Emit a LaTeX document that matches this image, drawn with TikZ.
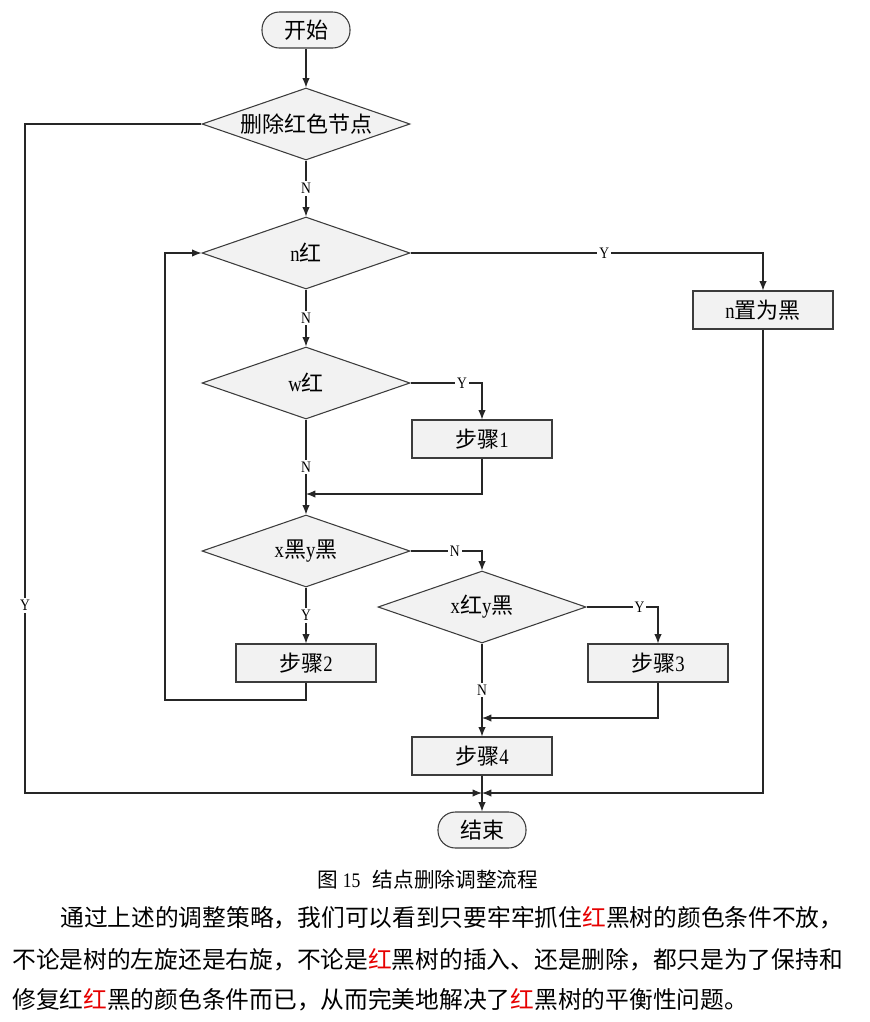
\documentclass[tikz,border=0pt]{standalone}
\usepackage{fontspec}
\setmainfont[FakeStretch=0.85]{Liberation Serif}
\newfontfamily\cjk{Noto Sans CJK SC}
\usetikzlibrary{shapes.geometric, arrows.meta, calc}
\definecolor{boxgray}{RGB}{242,242,242}
\definecolor{edgegray}{RGB}{60,60,60}
\definecolor{textred}{RGB}{230,0,0}

\begin{document}
\begin{tikzpicture}[x=0.75pt, y=-0.75pt]
            \tikzstyle{decision} = [diamond, aspect=3, draw=edgegray, fill=boxgray, line width=0.8pt, inner sep=0pt, minimum width=156pt, minimum height=54pt, font=\fontsize{16.5}{18}\selectfont]
            \tikzstyle{block} = [rectangle, draw=edgegray, fill=boxgray, line width=0.8pt, minimum width=105pt, minimum height=28.5pt, font=\fontsize{16.5}{18}\selectfont]
            \tikzstyle{terminal} = [rectangle, rounded corners=13pt, draw=edgegray, fill=boxgray, line width=0.8pt, minimum width=66pt, minimum height=27pt, font=\fontsize{16.5}{18}\selectfont]
            \tikzstyle{arrow} = [line width=0.8pt, ->, >={Latex[length=7pt,width=5.5pt]}, black!85]
            \tikzstyle{lbl} = [fill=white, inner sep=1.5pt, font=\fontsize{12}{13}\selectfont, text=black]
            \tikzstyle{para} = [anchor=west, inner sep=0pt, font=\fontsize{17.8}{20}\selectfont\cjk]

            \useasboundingbox (0,0) rectangle (870,1022);

            % flow nodes
            \node[terminal] (start) at (306,30) {\cjk 开始};
            \node[decision] (delred) at (306,124) {\cjk 删除红色节点};
            \node[decision] (nred) at (306,253) {n{\cjk 红}};
            \node[block] (nblack) at (763,310) {n{\cjk 置为黑}};
            \node[decision] (wred) at (306,383) {w{\cjk 红}};
            \node[block] (step1) at (482,439) {{\cjk 步骤}1};
            \node[decision] (xbyb) at (306,551) {x{\cjk 黑}y{\cjk 黑}};
            \node[decision] (xryb) at (482,607) {x{\cjk 红}y{\cjk 黑}};
            \node[block] (step2) at (306,663) {{\cjk 步骤}2};
            \node[block] (step3) at (658,663) {{\cjk 步骤}3};
            \node[block] (step4) at (482,756) {{\cjk 步骤}4};
            \node[terminal] (stop) at (482,830) {\cjk 结束};

            % junctions and corners
            \coordinate (j1) at (306,494);
            \coordinate (j2) at (482,718);
            \coordinate (j3) at (482,793);
            \coordinate (lcorner) at (25,793);
            \coordinate (loopb) at (165,700);

            \draw[arrow] (start) -- (delred);
            \draw[arrow] (delred) -- node[lbl]{N} (nred);
            \draw[arrow] (nred.east) -| node[lbl, pos=0.275]{Y} (nblack);
            \draw[arrow] (nred) -- node[lbl]{N} (wred);
            \draw[arrow] (wred.east) -| node[lbl, pos=0.36]{Y} (step1);
            \draw[arrow] (step1.south) |- (j1);
            \draw[arrow] (wred) -- node[lbl]{N} (xbyb);
            \draw[arrow] (xbyb.east) -| node[lbl, pos=0.31]{N} (xryb);
            \draw[arrow] (xbyb) -- node[lbl]{Y} (step2);
            \draw[arrow] (step2.south) |- (loopb) |- (nred.west);
            \draw[arrow] (xryb.east) -| node[lbl, pos=0.37]{Y} (step3);
            \draw[arrow] (step3.south) |- (j2);
            \draw[arrow] (xryb) -- node[lbl]{N} (step4);
            \draw[arrow] (step4) -- (stop);
            \draw[arrow] (delred.west) -| node[lbl, pos=0.86]{Y} (lcorner) -- (j3);
            \draw[arrow] (nblack.south) |- (j3);

            % caption and text
            \node[font=\fontsize{15.5}{18}\selectfont] (cap) at (428,880) {{\cjk 图} 15\hspace{0.6em}{\cjk 结点删除调整流程}};
            \node[para] (line1) at (60,918) {通过上述的调整策略，我们可以看到只要牢牢抓住\textcolor{textred}{红}黑树的颜色条件不放，};
            \node[para] (line2) at (12,960) {不论是树的左旋还是右旋，不论是\textcolor{textred}{红}黑树的插入、还是删除，都只是为了保持和};
            \node[para] (line3) at (12,1000) {修复红\textcolor{textred}{红}黑的颜色条件而已，从而完美地解决了\textcolor{textred}{红}黑树的平衡性问题。};
        \end{tikzpicture}
\end{document}
